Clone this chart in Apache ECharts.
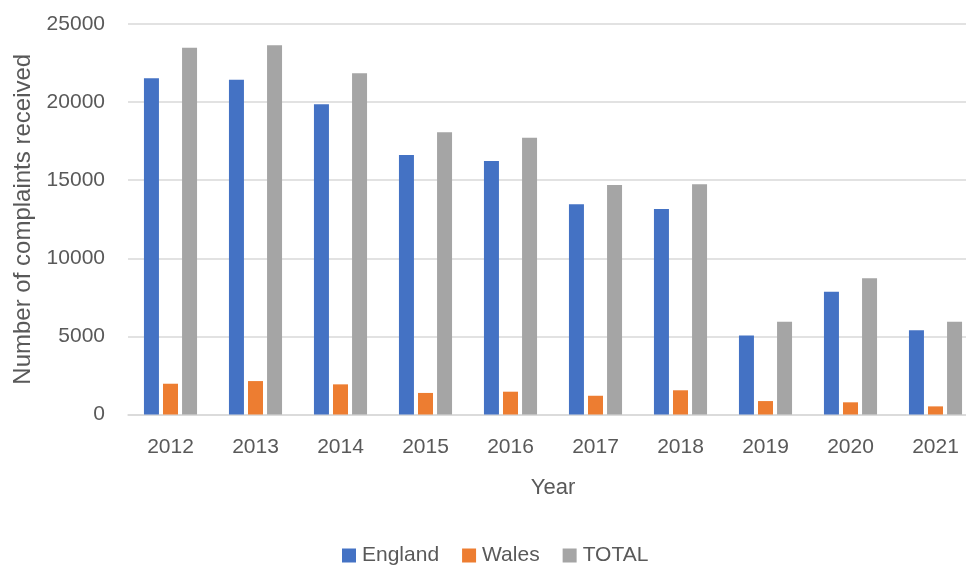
<!DOCTYPE html>
<html>
<head>
<meta charset="utf-8">
<title>Complaints received by year</title>
<script src="https://cdn.jsdelivr.net/npm/echarts@6/dist/echarts.min.js"></script>
<style>
  html, body { margin: 0; padding: 0; background: #ffffff; }
  #chart { width: 966px; height: 567px; }
</style>
</head>
<body>
<div id="chart"></div>
<script>
// Complaints received per year
const years = ['2012', '2013', '2014', '2015', '2016', '2017', '2018', '2019', '2020', '2021'];
const england = [21520, 21430, 19860, 16610, 16230, 13460, 13160, 5050, 7860, 5390];
const wales = [1970, 2140, 1930, 1380, 1460, 1200, 1550, 860, 780, 520];
const total = [23480, 23640, 21840, 18070, 17720, 14690, 14740, 5940, 8720, 5940];
const yTicks = [0, 5000, 10000, 15000, 20000, 25000];

const textColor = '#595959';
const font = '"Liberation Sans", Arial, sans-serif';

const chart = echarts.init(document.getElementById('chart'), null, { renderer: 'canvas' });

function barSeries(name, data, color) {
  return {
    name: name,
    type: 'bar',
    data: data,
    barWidth: 15,
    barGap: '27%',
    itemStyle: { color: color },
    emphasis: { disabled: true }
  };
}

chart.setOption({
  animation: false,
  backgroundColor: '#ffffff',
  textStyle: { fontFamily: font, color: textColor },
  grid: { left: 128, top: 24, width: 850, height: 390.5, outerBoundsMode: 'none', containLabel: false },
  legend: {
    left: 342,
    top: 545,
    padding: 0,
    itemWidth: 14,
    itemHeight: 14,
    itemGap: 23,
    icon: 'rect',
    textStyle: { fontSize: 21, color: textColor, fontFamily: font, padding: [0, 0, 0, 1] },
    data: ['England', 'Wales', 'TOTAL']
  },
  xAxis: {
    type: 'category',
    data: years,
    name: 'Year',
    nameLocation: 'middle',
    nameGap: 62,
    nameTextStyle: { fontSize: 22, color: textColor, fontFamily: font },
    axisLine: { show: true, lineStyle: { color: '#d9d9d9', width: 1.5 } },
    axisTick: { show: false },
    axisLabel: { fontSize: 21, color: textColor, margin: 22, fontFamily: font }
  },
  yAxis: {
    type: 'value',
    min: yTicks[0],
    max: yTicks[yTicks.length - 1],
    interval: yTicks[1] - yTicks[0],
    name: 'Number of complaints received',
    nameLocation: 'middle',
    nameGap: 91,
    nameTextStyle: { fontSize: 24, color: textColor, fontFamily: font },
    axisLine: { show: false },
    axisTick: { show: false },
    axisLabel: {
      fontSize: 21,
      color: textColor,
      margin: 23,
      fontFamily: font,
      formatter: function (v) { return String(v); }
    },
    splitLine: { lineStyle: { color: '#d9d9d9', width: 1.5 } }
  },
  series: [
    barSeries('England', england, '#4472c4'),
    barSeries('Wales', wales, '#ed7d31'),
    barSeries('TOTAL', total, '#a5a5a5')
  ]
});
</script>
</body>
</html>
